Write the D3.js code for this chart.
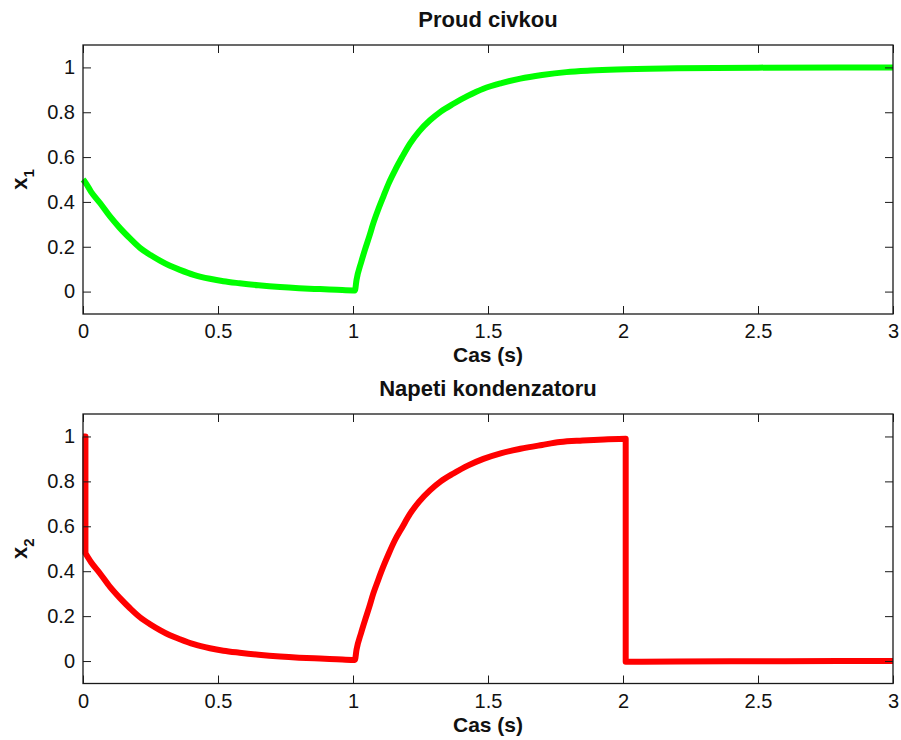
<!DOCTYPE html>
<html>
<head>
<meta charset="utf-8">
<script src="https://cdn.jsdelivr.net/npm/d3@7"></script>
<style>
  body { margin: 0; background: #fff; }
  svg { display: block; font-family: "Liberation Sans", Arial, Helvetica, sans-serif; }
</style>
</head>
<body>
<svg id="chart" width="901" height="740"></svg>
<script>
// ---- data ----
const t1 = [0, 0.007, 0.03, 0.063, 0.1, 0.137, 0.175, 0.211, 0.25, 0.285, 0.32, 0.359, 0.41, 0.47, 0.52, 0.58, 0.65, 0.73, 0.8, 0.878, 0.94, 1.0, 1.007,
            1.013, 1.03, 1.044, 1.06, 1.075, 1.093, 1.112, 1.133, 1.156, 1.182, 1.211, 1.245, 1.285, 1.325, 1.372, 1.425, 1.483, 1.55, 1.62, 1.7, 1.79, 1.88, 1.977, 2.2, 2.5, 2.8, 3.0];
const x1 = [0.5, 0.49, 0.445, 0.395, 0.335, 0.283, 0.236, 0.195, 0.163, 0.138, 0.116, 0.097, 0.075, 0.057, 0.046, 0.037, 0.028, 0.02, 0.015, 0.011, 0.008, 0.005, 0.005,
            0.052, 0.13, 0.186, 0.245, 0.304, 0.365, 0.423, 0.485, 0.542, 0.6, 0.66, 0.715, 0.764, 0.803, 0.838, 0.873, 0.905, 0.93, 0.95, 0.966, 0.979, 0.986, 0.991, 0.996, 0.999, 1.0, 1.0];

const t2 = [0, 0.009, 0.009, 0.03, 0.063, 0.1, 0.137, 0.175, 0.211, 0.25, 0.285, 0.32, 0.359, 0.41, 0.47, 0.52, 0.58, 0.65, 0.73, 0.8, 0.878, 0.94, 1.0, 1.007,
            1.013, 1.03, 1.044, 1.06, 1.075, 1.093, 1.112, 1.133, 1.156, 1.182, 1.211, 1.245, 1.285, 1.325, 1.372, 1.425, 1.483, 1.55, 1.62, 1.7, 1.767, 1.85, 1.93, 2.01, 2.01, 2.2, 2.5, 2.8, 3.0];
const x2 = [1.0, 1.0, 0.48, 0.44, 0.39, 0.33, 0.28, 0.234, 0.195, 0.163, 0.138, 0.116, 0.097, 0.075, 0.057, 0.046, 0.037, 0.028, 0.02, 0.015, 0.011, 0.008, 0.005, 0.005,
            0.05, 0.125, 0.18, 0.24, 0.3, 0.36, 0.42, 0.48, 0.54, 0.595, 0.655, 0.71, 0.76, 0.8, 0.835, 0.87, 0.9, 0.926, 0.945, 0.962, 0.975, 0.982, 0.987, 0.99, -0.003, -0.002, -0.001, 0, 0];

const xTicks = [0, 0.5, 1, 1.5, 2, 2.5, 3];
const xTickLabels = ["0", "0.5", "1", "1.5", "2", "2.5", "3"];
const yTicks = [0, 0.2, 0.4, 0.6, 0.8, 1];
const yTickLabels = ["0", "0.2", "0.4", "0.6", "0.8", "1"];

const titles = ["Proud civkou", "Napeti kondenzatoru"];
const xLabel = "Cas (s)";
const yLabelBase = ["x", "x"];
const yLabelSub = ["1", "2"];
const colors = ["#00ff00", "#ff0000"];

// ---- drawing ----
const svg = d3.select("#chart");
const left = 83, right = 893;
const panels = [
  { top: 45, bottom: 314, t: t1, v: x1 },
  { top: 414, bottom: 683.5, t: t2, v: x2 }
];
const frameColor = "#1a1a1a";
const tickLen = 8;
const FONT = "'Liberation Sans', Arial, Helvetica, sans-serif";

panels.forEach((p, i) => {
  const x = d3.scaleLinear().domain([0, 3]).range([left, right]);
  const y = d3.scaleLinear().domain([-0.1, 1.1]).range([p.bottom, p.top]);
  const g = svg.append("g");

  // split into runs of strictly increasing t (vertical jumps join runs)
  const pts = p.t.map((tt, k) => [tt, p.v[k]]);
  const runs = [[pts[0]]];
  for (let k = 1; k < pts.length; k++) {
    if (pts[k][0] <= pts[k - 1][0]) runs.push([]);
    runs[runs.length - 1].push(pts[k]);
  }
  const lineGen = d3.line().x(d => x(d[0])).y(d => y(d[1])).curve(d3.curveMonotoneX);
  const dStr = runs.map((r, k) => {
    const s = lineGen(r);
    return k === 0 ? s : "L" + s.slice(1);
  }).join("");

  g.append("path")
    .attr("fill", "none")
    .attr("stroke", colors[i])
    .attr("stroke-width", 6)
    .attr("stroke-linejoin", "round")
    .attr("stroke-linecap", "butt")
    .attr("d", dStr);

  // axes (ticks inward)
  const fmtX = (d) => xTickLabels[xTicks.indexOf(d)];
  const fmtY = (d) => yTickLabels[yTicks.indexOf(d)];

  const axB = g.append("g").attr("transform", `translate(0,${p.bottom})`)
    .call(d3.axisBottom(x).tickValues(xTicks).tickFormat(fmtX).tickSizeInner(-tickLen).tickSizeOuter(0).tickPadding(10));
  const axT = g.append("g").attr("transform", `translate(0,${p.top})`)
    .call(d3.axisTop(x).tickValues(xTicks).tickFormat("").tickSizeInner(-tickLen).tickSizeOuter(0));
  const axL = g.append("g").attr("transform", `translate(${left},0)`)
    .call(d3.axisLeft(y).tickValues(yTicks).tickFormat(fmtY).tickSizeInner(-tickLen).tickSizeOuter(0).tickPadding(8));
  const axR = g.append("g").attr("transform", `translate(${right},0)`)
    .call(d3.axisRight(y).tickValues(yTicks).tickFormat("").tickSizeInner(-tickLen).tickSizeOuter(0));

  [axB, axT, axL, axR].forEach(a => {
    a.select(".domain").remove();
    a.selectAll(".tick line").attr("stroke", frameColor).attr("stroke-width", 1);
    a.selectAll(".tick text").attr("fill", "#111").attr("font-size", 20).attr("font-family", FONT);
  });
  axB.selectAll(".tick text").attr("dy", "0.71em");

  // frame
  g.append("rect")
    .attr("x", left).attr("y", p.top)
    .attr("width", right - left).attr("height", p.bottom - p.top)
    .attr("fill", "none").attr("stroke", frameColor).attr("stroke-width", 1.3);

  // title
  g.append("text")
    .attr("x", (left + right) / 2).attr("y", p.top - 18)
    .attr("text-anchor", "middle").attr("font-weight", "bold").attr("font-size", 22)
    .attr("fill", "#111")
    .text(titles[i]);

  // x label
  g.append("text")
    .attr("x", (left + right) / 2).attr("y", p.bottom + 48)
    .attr("text-anchor", "middle").attr("font-weight", "bold").attr("font-size", 21)
    .attr("fill", "#111")
    .text(xLabel);

  // y label
  const yl = g.append("text")
    .attr("transform", `translate(27,${(p.top + p.bottom) / 2}) rotate(-90)`)
    .attr("text-anchor", "middle").attr("font-weight", "bold").attr("font-size", 22)
    .attr("fill", "#111");
  yl.append("tspan").text(yLabelBase[i]);
  yl.append("tspan").attr("dy", 7).attr("font-size", 15).text(yLabelSub[i]);
});
</script>
</body>
</html>
